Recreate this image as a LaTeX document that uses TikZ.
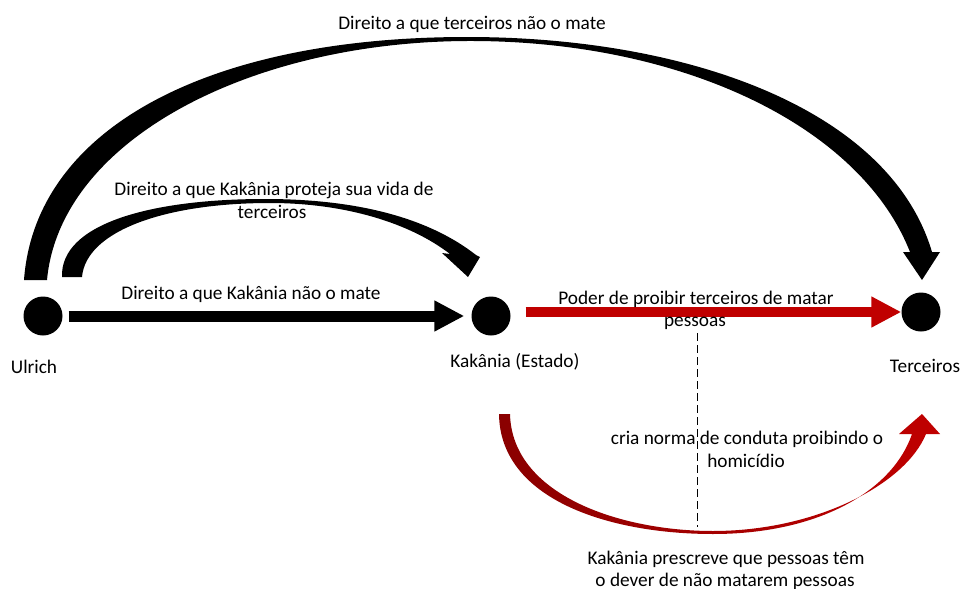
\documentclass[tikz,border=0pt]{standalone}
\usepackage{fontspec}
\setmainfont{Carlito}
\usetikzlibrary{arrows.meta,calc}
\definecolor{kred}{HTML}{C00000}
\definecolor{kdark}{HTML}{8A0000}
\begin{document}
\begin{tikzpicture}[x=1pt,y=-1pt,
  dot/.style={circle,fill=black,minimum size=39pt,inner sep=0pt},
  lbl/.style={font=\fontsize{19.3}{22.5}\selectfont,anchor=base,inner sep=0pt,text=black},
  blackarrow/.style={draw=black,line width=11pt,-{Triangle[length=30pt,width=29pt]}},
  redarrow/.style={draw=kred,line width=9.5pt,-{Triangle[length=30pt,width=29pt]}},
  guide/.style={draw=black,line width=1pt,dash pattern=on 8pt off 4pt},
  bigcurve/.style={fill=black},
  redcurve/.style={left color=kdark,right color=kred,draw=none}]
\useasboundingbox (0,0) rectangle (962,589);

% nodes
\node[dot] (U) at (43,316) {};
\node[dot] (K) at (491,316) {};
\node[dot] (T) at (921,312) {};

% straight connectors
\draw[blackarrow,shorten <=6pt,shorten >=7pt] (U) -- (K);
\draw[redarrow] ($(K.east |- T.center)+(15,0)$) -- (T.west);

% dashed guide
\coordinate (d1) at (697,333);
\coordinate (d2) at (697,527);
\draw[guide] (d1) -- (d2);

% big curved arrow Ulrich -> Terceiros
\path[bigcurve] (24,280) .. controls (35,130) and (205,37) .. (467,37)
  .. controls (690,37) and (890,110) .. (932,252)
  -- (940,252) -- (922,280) -- (903,252) -- (910,252)
  .. controls (860,125) and (680,40) .. (467,41)
  .. controls (250,42) and (60,140) .. (47,280) -- cycle;

% small curved arrow Ulrich -> Kakania
\path[bigcurve] (62,277) .. controls (60,224) and (150,199) .. (265,199)
  .. controls (360,199) and (430,219) .. (476,255)
  -- (480,257) -- (468,277) -- (442,253) -- (450,254)
  .. controls (410,223) and (345,203) .. (270,203)
  .. controls (165,203) and (86,231) .. (82,277) -- cycle;

% red curved arrow Kakania -> Terceiros
\path[redcurve] (499,414) .. controls (500,500) and (610,534) .. (713,534)
  .. controls (820,534) and (893,490) .. (912,434)
  -- (899,434) -- (922,414) -- (940,434) -- (926,434)
  .. controls (905,485) and (815,531) .. (713,531)
  .. controls (620,531) and (512,495) .. (510,414) -- cycle;

% labels
\node[lbl] (t1) at (472,29) {Direito a que terceiros não o mate};
\node[lbl] (t2a) at (274,195) {Direito a que Kakânia proteja sua vida de};
\node[lbl] (t2b) at (272,218) {terceiros};
\node[lbl] (t3) at (251,299) {Direito a que Kakânia não o mate};
\node[lbl] (t4a) at (696,304) {Poder de proibir terceiros de matar};
\node[lbl] (t4b) at (695,326) {pessoas};
\node[lbl] (t5a) at (747,444) {cria norma de conduta proibindo o};
\node[lbl] (t5b) at (746,467) {homicídio};
\node[lbl] (t6a) at (726,564) {Kakânia prescreve que pessoas têm};
\node[lbl] (t6b) at (725,586) {o dever de não matarem pessoas};
\node[lbl] (lU) at (34,373) {Ulrich};
\node[lbl] (lK) at (515,367) {Kakânia (Estado)};
\node[lbl] (lT) at (925,372) {Terceiros};
\end{tikzpicture}
\end{document}
